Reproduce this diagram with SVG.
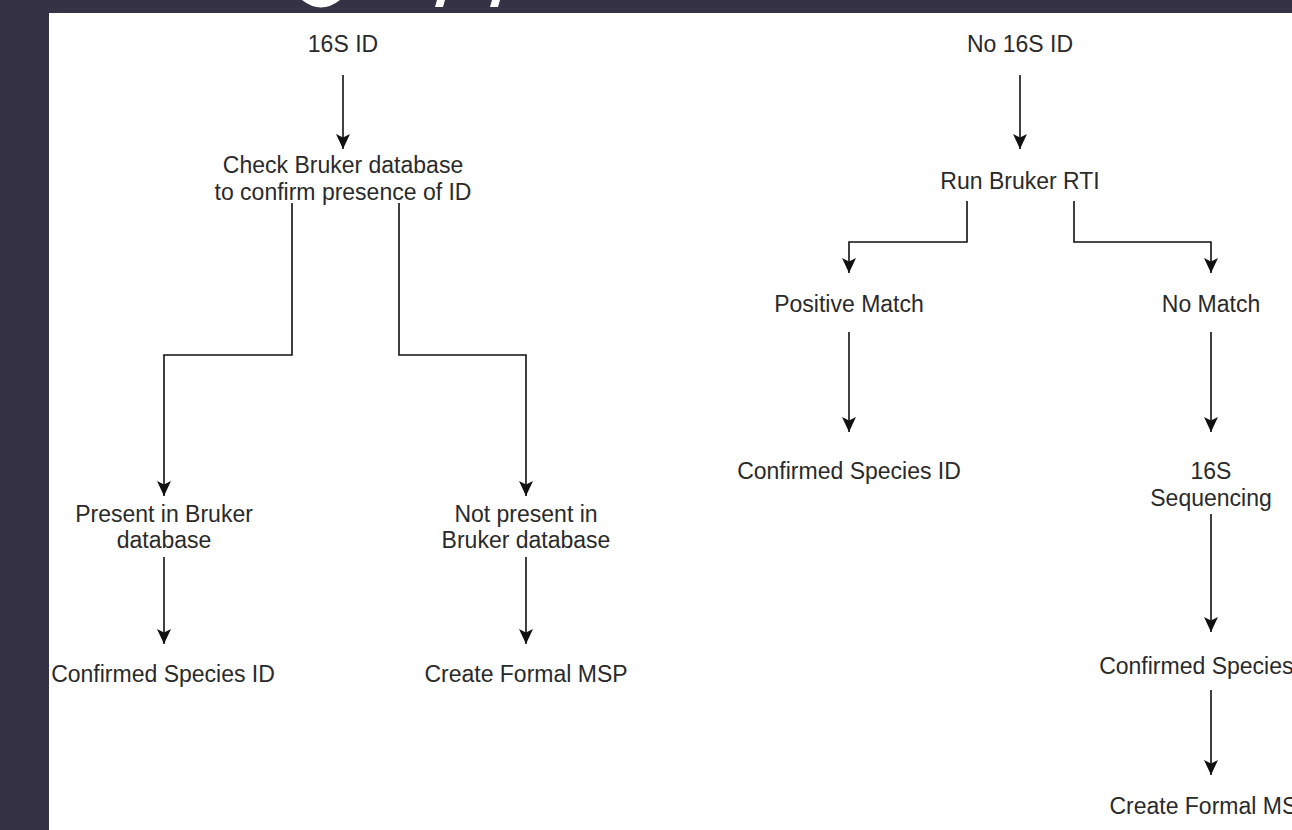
<svg xmlns="http://www.w3.org/2000/svg" width="1292" height="830" viewBox="0 0 1292 830">
  <style>
    .t { font-family: "Liberation Sans", Arial, Helvetica, sans-serif; font-size: 23px; fill: #2a2a2a; text-anchor: middle; }
    .c { fill: none; stroke: #111111; stroke-width: 1.6; }
  </style>
  <defs>
    <marker id="arr" markerUnits="userSpaceOnUse" markerWidth="16" markerHeight="14" refX="15" refY="7" orient="auto">
      <path d="M0,0 L15,7 L0,14 L3.5,7 Z" fill="#111111"/>
    </marker>
  </defs>
  <rect x="0" y="0" width="1292" height="830" fill="#353245"/>
  <g id="title-fragments" fill="#ffffff">
    <path d="M302,0 Q321,15 340,0 Z"/>
    <polygon points="437,0 445,0 443,7 435,7"/>
    <polygon points="492,0 500,0 498,7 490,7"/>
  </g>
  <rect id="panel" x="49" y="13" width="1243" height="817" fill="#ffffff"/>

  <g id="connectors">
    <path class="c" d="M343,75 V149" marker-end="url(#arr)"/>
    <path class="c" d="M292,203 V355 H164 V496" marker-end="url(#arr)"/>
    <path class="c" d="M399,203 V355 H526 V496" marker-end="url(#arr)"/>
    <path class="c" d="M164,557 V644" marker-end="url(#arr)"/>
    <path class="c" d="M526,557 V644" marker-end="url(#arr)"/>
    <path class="c" d="M1020,75 V149" marker-end="url(#arr)"/>
    <path class="c" d="M967,201 V242 H849 V273" marker-end="url(#arr)"/>
    <path class="c" d="M1074,201 V242 H1211 V273" marker-end="url(#arr)"/>
    <path class="c" d="M849,332 V432" marker-end="url(#arr)"/>
    <path class="c" d="M1211,332 V432" marker-end="url(#arr)"/>
    <path class="c" d="M1211,514 V632" marker-end="url(#arr)"/>
    <path class="c" d="M1211,690 V775" marker-end="url(#arr)"/>
  </g>

  <g id="n-16s-id"><text class="t" x="343" y="52">16S ID</text></g>
  <g id="n-check-bruker"><text class="t" x="343" y="173">Check Bruker database</text><text class="t" x="343" y="200">to confirm presence of ID</text></g>
  <g id="n-present"><text class="t" x="164" y="522">Present in Bruker</text><text class="t" x="164" y="548">database</text></g>
  <g id="n-not-present"><text class="t" x="526" y="522">Not present in</text><text class="t" x="526" y="548">Bruker database</text></g>
  <g id="n-confirmed-left"><text class="t" x="163" y="682">Confirmed Species ID</text></g>
  <g id="n-msp-left"><text class="t" x="526" y="682">Create Formal MSP</text></g>

  <g id="n-no-16s-id"><text class="t" x="1020" y="52">No 16S ID</text></g>
  <g id="n-run-rti"><text class="t" x="1020" y="189">Run Bruker RTI</text></g>
  <g id="n-positive"><text class="t" x="849" y="312">Positive Match</text></g>
  <g id="n-no-match"><text class="t" x="1211" y="312">No Match</text></g>
  <g id="n-confirmed-mid"><text class="t" x="849" y="479">Confirmed Species ID</text></g>
  <g id="n-16s-seq"><text class="t" x="1211" y="479">16S</text><text class="t" x="1211" y="506">Sequencing</text></g>
  <g id="n-confirmed-right"><text class="t" x="1211" y="674">Confirmed Species ID</text></g>
  <g id="n-msp-right"><text class="t" x="1211" y="814">Create Formal MSP</text></g>
</svg>
